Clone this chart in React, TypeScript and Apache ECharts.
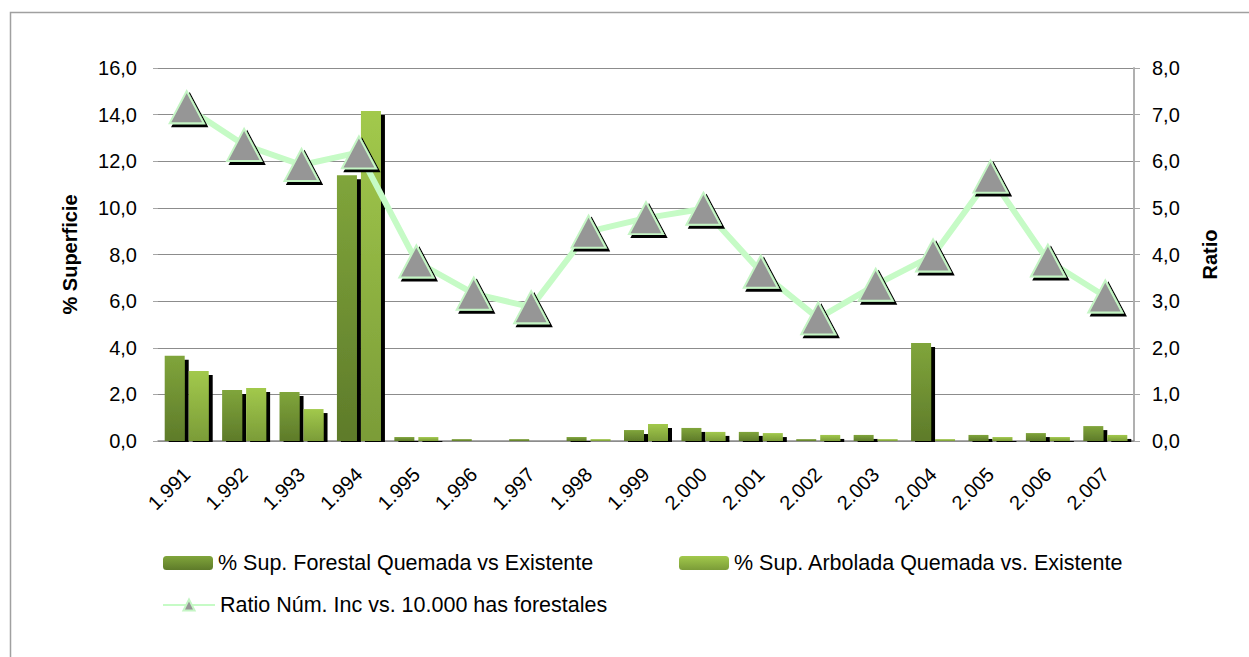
import React, { useEffect, useRef } from "react";
import * as echarts from "echarts";

const years = ["1.991","1.992","1.993","1.994","1.995","1.996","1.997","1.998","1.999","2.000","2.001","2.002","2.003","2.004","2.005","2.006","2.007"];
const forestal = [3.66, 2.19, 2.10, 11.40, 0.17, 0.08, 0.08, 0.17, 0.47, 0.56, 0.39, 0.08, 0.26, 4.20, 0.26, 0.34, 0.64];
const arbolada = [3.00, 2.27, 1.37, 14.16, 0.17, 0.0, 0.0, 0.08, 0.73, 0.39, 0.34, 0.26, 0.08, 0.08, 0.17, 0.17, 0.26];
const ratio = [7.16, 6.35, 5.92, 6.19, 3.85, 3.16, 2.87, 4.49, 4.78, 4.98, 3.63, 2.63, 3.35, 3.98, 5.67, 3.87, 3.10];

const nameForestal = "% Sup. Forestal Quemada vs Existente";
const nameArbolada = "% Sup. Arbolada Quemada vs. Existente";
const nameRatio = "Ratio Núm. Inc vs. 10.000 has forestales";

const FONT = "Liberation Sans";
const fmt = (v: number) => v.toFixed(1).replace(".", ",");

export default function App() {
  const ref = useRef<HTMLDivElement>(null);
  useEffect(() => {
    document.body.style.margin = "0";
    const chart = echarts.init(ref.current!, null, { renderer: "svg" });
    const legendText = { fontFamily: FONT, fontSize: 21.5, color: "#000" };
    const noShadow = { shadowColor: "rgba(0,0,0,0)", shadowOffsetX: 0, shadowOffsetY: 0, shadowBlur: 0 };
    chart.setOption({
      animation: false,
      backgroundColor: "#fff",
      textStyle: { fontFamily: FONT },
      graphic: [
        {
          type: "rect",
          left: 8,
          top: 10,
          shape: { width: 1300, height: 700 },
          style: { fill: "none", stroke: "#a0a0a0", lineWidth: 1.5 },
          silent: true,
        },
        {
          type: "rect",
          left: 150,
          top: 442,
          z: 100,
          shape: { width: 990, height: 6 },
          style: { fill: "#fff" },
          silent: true,
        },
      ],
      legend: [
        { left: 158, top: 547, itemWidth: 50, itemHeight: 14, data: [nameForestal], textStyle: legendText, itemStyle: noShadow },
        { left: 674, top: 547, itemWidth: 50, itemHeight: 14, data: [nameArbolada], textStyle: legendText, itemStyle: noShadow },
        { left: 157, top: 589, itemWidth: 52, itemHeight: 14, data: [nameRatio], textStyle: legendText, itemStyle: noShadow },
      ],
      grid: { left: 158, right: 115, top: 68, bottom: 216 },
      xAxis: {
        type: "category",
        data: years,
        axisLine: { lineStyle: { color: "#8c8c8c", width: 1.5 } },
        axisTick: { show: false },
        axisLabel: { rotate: 45, margin: 30, fontSize: 20, color: "#000", fontFamily: FONT, interval: 0 },
      },
      yAxis: [
        {
          type: "value",
          min: 0,
          max: 16,
          interval: 2,
          name: "% Superficie",
          nameLocation: "middle",
          nameRotate: 90,
          nameGap: 78,
          nameTextStyle: { fontWeight: "bold", fontSize: 20, color: "#000", fontFamily: FONT },
          axisLine: { show: false },
          axisTick: { show: true, length: 5, lineStyle: { color: "#a6a6a6" } },
          axisLabel: { formatter: fmt, fontSize: 20, color: "#000", margin: 21, fontFamily: FONT },
          splitLine: { lineStyle: { color: "#8c8c8c", width: 1 } },
        },
        {
          type: "value",
          min: 0,
          max: 8,
          interval: 1,
          name: "Ratio",
          nameLocation: "middle",
          nameRotate: 90,
          nameGap: 66,
          nameTextStyle: { fontWeight: "bold", fontSize: 20, color: "#000", fontFamily: FONT },
          axisLine: { show: true, lineStyle: { color: "#b0b0b0", width: 2 } },
          axisTick: { show: true, length: 6, lineStyle: { color: "#a6a6a6" } },
          axisLabel: { formatter: fmt, fontSize: 20, color: "#000", margin: 18, fontFamily: FONT },
          splitLine: { show: false },
        },
      ],
      series: [
        {
          name: nameForestal,
          type: "bar",
          data: forestal,
          barWidth: 20,
          barGap: "20%",
          itemStyle: {
            color: new echarts.graphic.LinearGradient(0, 0, 0, 1, [
              { offset: 0, color: "#80a53b" },
              { offset: 1, color: "#5e7b2a" },
            ]),
            shadowColor: "#000",
            shadowOffsetX: 4,
            shadowOffsetY: 4,
            shadowBlur: 0,
          },
        },
        {
          name: nameArbolada,
          type: "bar",
          data: arbolada,
          barWidth: 20,
          itemStyle: {
            color: new echarts.graphic.LinearGradient(0, 0, 0, 1, [
              { offset: 0, color: "#a2c94c" },
              { offset: 1, color: "#7b9c38" },
            ]),
            shadowColor: "#000",
            shadowOffsetX: 4,
            shadowOffsetY: 4,
            shadowBlur: 0,
          },
        },
        {
          name: nameRatio,
          type: "line",
          yAxisIndex: 1,
          data: ratio,
          symbol: "triangle",
          symbolSize: [34, 32],
          lineStyle: { color: "#c6fbc6", width: 6 },
          itemStyle: {
            color: "#969696",
            borderColor: "#c4f5c4",
            borderWidth: 2,
            shadowColor: "#000",
            shadowOffsetX: 3,
            shadowOffsetY: 3,
            shadowBlur: 0,
          },
          z: 5,
        },
      ],
    });
    return () => chart.dispose();
  }, []);
  return <div ref={ref} style={{ width: 1249, height: 657 }} />;
}
